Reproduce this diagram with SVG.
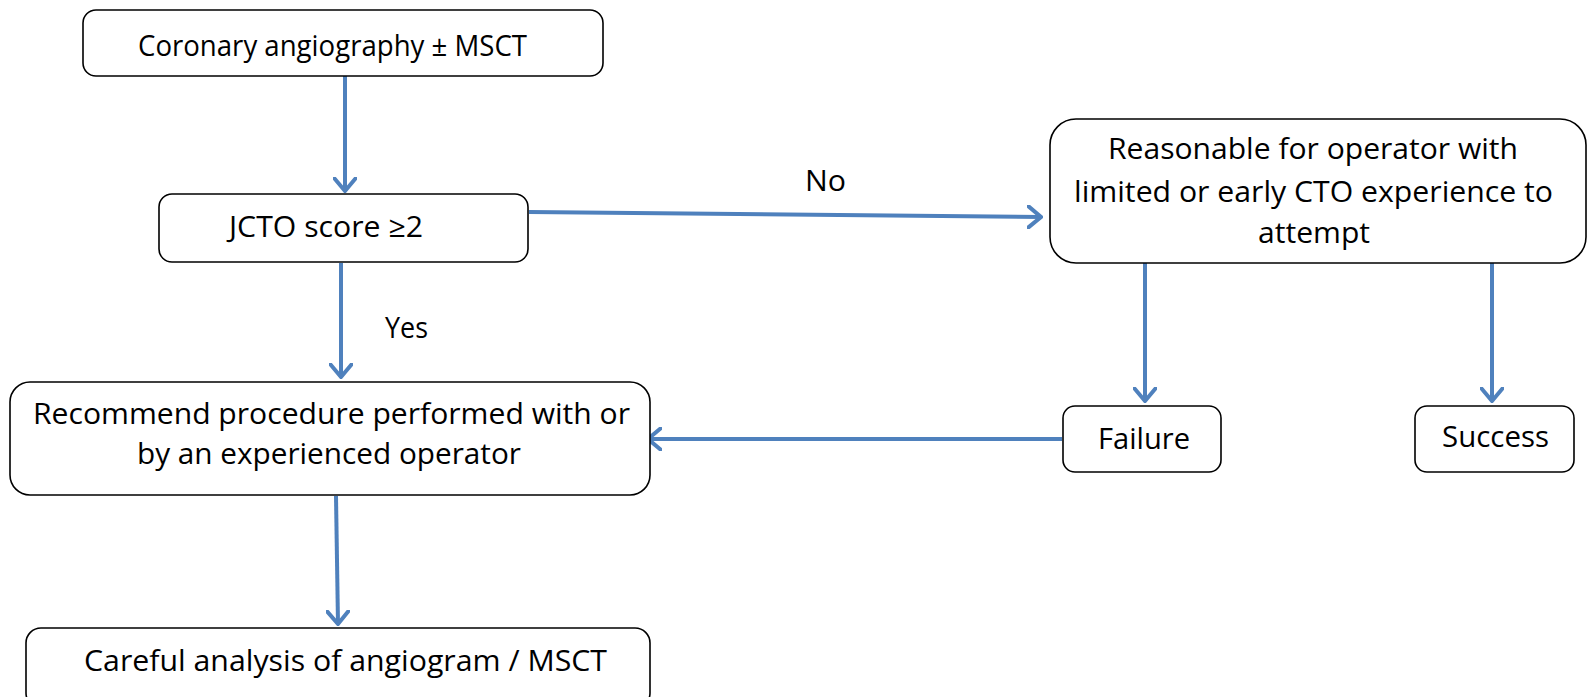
<svg xmlns="http://www.w3.org/2000/svg" width="1591" height="697" viewBox="0 0 1591 697">
<defs>
<marker id="ah" viewBox="0 0 16 24" refX="14" refY="12" markerWidth="16" markerHeight="24" markerUnits="userSpaceOnUse" orient="auto">
<path d="M1.5,1.5 L14,12 L1.5,22.5" fill="none" stroke="#4F81BD" stroke-width="4" stroke-linecap="round" stroke-linejoin="miter"/>
</marker>
<style>
.box{fill:#fff;stroke:#000;stroke-width:1.6}
.t{font-family:"Open Sans","Liberation Sans",Arial,sans-serif;font-size:29px;fill:#000}
.c{fill:none;stroke:#4F81BD;stroke-width:4;marker-end:url(#ah)}
</style>
</defs>
<rect width="1591" height="697" fill="#fff"/>
<g id="connectors">
<line class="c" x1="345" y1="76" x2="345" y2="191"/>
<line class="c" x1="529" y1="212" x2="1041" y2="217"/>
<line class="c" x1="341" y1="263" x2="341" y2="377"/>
<line class="c" x1="1062" y1="439" x2="648" y2="439"/>
<line class="c" x1="1145" y1="263" x2="1145" y2="401"/>
<line class="c" x1="1492" y1="263" x2="1492" y2="401"/>
<line class="c" x1="336" y1="496" x2="338" y2="624"/>
<text class="t" x="805" y="191" textLength="41" lengthAdjust="spacingAndGlyphs">No</text>
<text class="t" x="385" y="338" textLength="43" lengthAdjust="spacingAndGlyphs">Yes</text>
</g>
<g id="n1"><rect class="box" x="83" y="10" width="520" height="66" rx="13"/><text class="t" x="138" y="56" textLength="389" lengthAdjust="spacingAndGlyphs">Coronary angiography ± MSCT</text></g>
<g id="n2"><rect class="box" x="159" y="194" width="369" height="68" rx="13"/><text class="t" x="229" y="237" textLength="194" lengthAdjust="spacingAndGlyphs">JCTO score ≥2</text></g>
<g id="n3"><rect class="box" x="10" y="382" width="640" height="113" rx="20"/><text class="t" x="33" y="424" textLength="597" lengthAdjust="spacingAndGlyphs">Recommend procedure performed with or</text><text class="t" x="137" y="464" textLength="384" lengthAdjust="spacingAndGlyphs">by an experienced operator</text></g>
<g id="n4"><rect class="box" x="26" y="628" width="624" height="80" rx="15"/><text class="t" x="84" y="671" textLength="523" lengthAdjust="spacingAndGlyphs">Careful analysis of angiogram / MSCT</text></g>
<g id="n5"><rect class="box" x="1050" y="119" width="536" height="144" rx="26"/><text class="t" x="1108" y="159" textLength="410" lengthAdjust="spacingAndGlyphs">Reasonable for operator with</text><text class="t" x="1074" y="202" textLength="479" lengthAdjust="spacingAndGlyphs">limited or early CTO experience to</text><text class="t" x="1258" y="243" textLength="112" lengthAdjust="spacingAndGlyphs">attempt</text></g>
<g id="n6"><rect class="box" x="1063" y="406" width="158" height="66" rx="12"/><text class="t" x="1098" y="449" textLength="92" lengthAdjust="spacingAndGlyphs">Failure</text></g>
<g id="n7"><rect class="box" x="1415" y="406" width="159" height="66" rx="12"/><text class="t" x="1442" y="447" textLength="107" lengthAdjust="spacingAndGlyphs">Success</text></g>
</svg>
